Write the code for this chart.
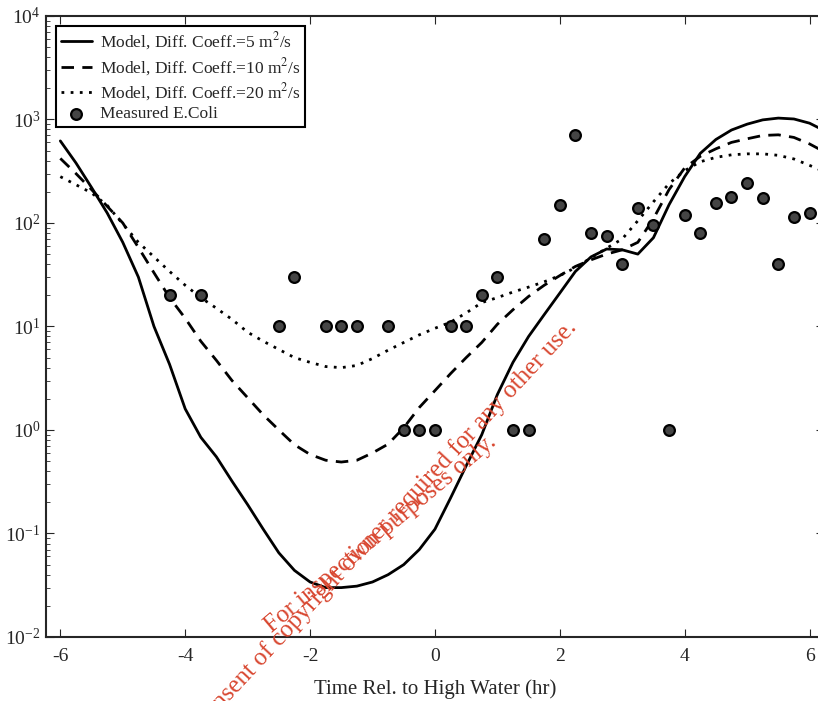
import numpy as np, pandas as pd, matplotlib
matplotlib.use("Agg")
import matplotlib.pyplot as plt, seaborn as sns

# Courbes du modèle (temps en heures par rapport à la pleine mer)
temps = [-6.0, -5.75, -5.5, -5.25, -5.0, -4.75, -4.5, -4.25, -4.0, -3.75, -3.5, -3.25,
         -3.0, -2.75, -2.5, -2.25, -2.0, -1.75, -1.5, -1.25, -1.0, -0.75, -0.5, -0.25,
         0.0, 0.25, 0.5, 0.75, 1.0, 1.25, 1.5, 1.75, 2.0, 2.25, 2.5, 2.75,
         3.0, 3.25, 3.5, 3.75, 4.0, 4.25, 4.5, 4.75, 5.0, 5.25, 5.5, 5.75, 6.0, 6.2]
diff5 = [620, 380, 220, 125, 65, 30, 10, 4.3, 1.6, 0.85, 0.55, 0.32,
         0.19, 0.11, 0.065, 0.044, 0.034, 0.030, 0.030, 0.031, 0.034, 0.040, 0.050, 0.070,
         0.11, 0.22, 0.45, 0.9, 2.2, 4.5, 8.0, 13, 21, 34, 47, 56,
         55, 50, 72, 150, 280, 470, 640, 790, 900, 990, 1030, 1010, 920, 800]
diff10 = [420, 300, 210, 145, 100, 58, 33, 19, 12, 7.2, 4.7, 3.0,
          2.05, 1.4, 1.0, 0.72, 0.58, 0.51, 0.49, 0.51, 0.6, 0.73, 1.05, 1.65,
          2.4, 3.5, 5.0, 7.0, 10.5, 14.5, 19.5, 25, 31, 38, 44, 50,
          55, 65, 110, 210, 340, 440, 520, 600, 650, 700, 710, 670, 580, 500]
diff20 = [280, 234, 195, 148, 98, 65, 47, 34, 25, 19, 15, 11.7,
          8.8, 7.2, 6.0, 5.0, 4.5, 4.1, 4.0, 4.2, 4.9, 5.9, 7.0, 8.3,
          9.6, 11, 13.5, 17, 19, 21.5, 24, 27, 31, 37, 46, 57,
          70, 105, 160, 240, 320, 390, 430, 455, 465, 465, 450, 415, 360, 320]

# Mesures E.Coli
t_mesure = [-4.25, -3.75, -2.5, -2.25, -1.75, -1.5, -1.25, -0.75, -0.5, -0.25, 0.0, 0.25,
            0.5, 0.75, 1.0, 1.25, 1.5, 1.75, 2.0, 2.25, 2.5, 2.75, 3.0, 3.25,
            3.5, 3.75, 4.0, 4.25, 4.5, 4.75, 5.0, 5.25, 5.5, 5.75, 6.0]
ecoli = [20, 20, 10, 30, 10, 10, 10, 10, 1, 1, 1, 10,
         10, 20, 30, 1, 1, 70, 150, 700, 80, 75, 40, 140,
         95, 1, 120, 80, 155, 180, 245, 175, 40, 115, 125]

sns.set_style("ticks")
plt.rcParams['font.family'] = ['Liberation Serif', 'DejaVu Serif']
plt.rcParams['mathtext.fontset'] = 'stix'
plt.rcParams['axes.unicode_minus'] = False

fig = plt.figure(figsize=(8.18, 7.01), dpi=100)
ax = fig.add_axes([0.0562, 0.0913, 0.951, 0.886])

sns.lineplot(x=temps, y=diff5, ax=ax, color='black', lw=2.0,
             label='Model, Diff. Coeff.=5 m$^2$/s')
sns.lineplot(x=temps, y=diff10, ax=ax, color='black', lw=2.0,
             label='Model, Diff. Coeff.=10 m$^2$/s')
ax.lines[-1].set_dashes([4.5, 3])
sns.lineplot(x=temps, y=diff20, ax=ax, color='black', lw=2.0,
             label='Model, Diff. Coeff.=20 m$^2$/s')
ax.lines[-1].set_dashes([1, 2.3])
sns.scatterplot(x=t_mesure, y=ecoli, ax=ax, color='#454545', edgecolor='black',
                linewidth=1.6, s=60, label='Measured E.Coli', zorder=5)

ax.set_yscale('log')
ax.set_ylim(1e-2, 1e4)
ax.set_xlim(-6.23, 6.23)
ax.set_xticks([-6, -4, -2, 0, 2, 4, 6])
ax.set_yticks([1e-2, 1e-1, 1e0, 1e1, 1e2, 1e3, 1e4])
ax.tick_params(which='both', direction='in', top=True, right=True, labelsize=14)
ax.tick_params(which='major', length=6)
ax.tick_params(which='minor', length=3)
ax.tick_params(axis='x', pad=8)
ax.tick_params(axis='y', pad=4)
for s in ax.spines.values():
    s.set_linewidth(1.5)
ax.set_xlabel('Time Rel. to High Water (hr)', fontsize=15, labelpad=10)

leg = ax.legend(loc='upper left', fontsize=12.5, frameon=True, fancybox=False,
                edgecolor='black', handlelength=1.8, borderaxespad=0.6,
                labelspacing=0.2, handletextpad=0.45, borderpad=0.25)
leg.get_frame().set_linewidth(1.5)
leg.get_frame().set_alpha(1)

# Filigrane
rouge = '#d8462f'
fig.text(0.466, 0.238, 'For inspection purposes only.', color=rouge, fontsize=18,
         rotation=40, ha='center', va='center')
fig.text(0.470, 0.250, 'Consent of copyright owner required for any other use.', color=rouge,
         fontsize=18, rotation=47, ha='center', va='center')

fig.savefig('out.png', dpi=100)
